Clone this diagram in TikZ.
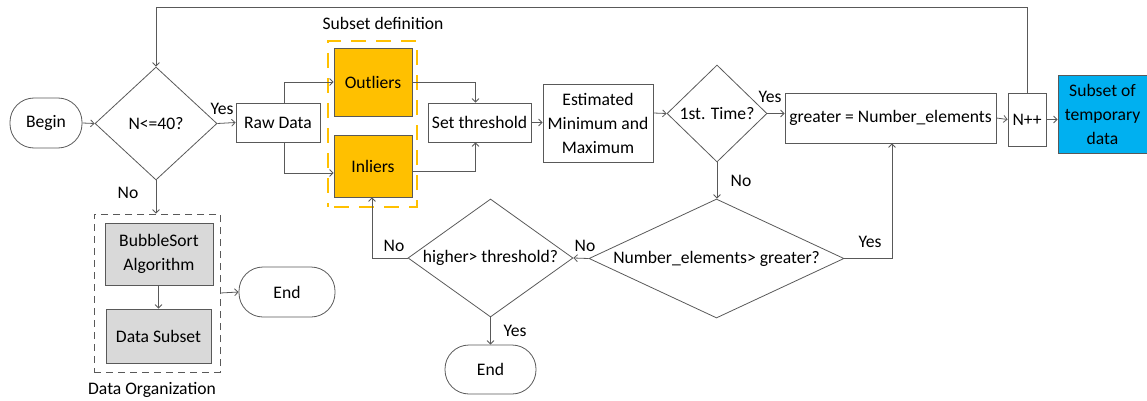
\documentclass[tikz,border=0pt]{standalone}
\usepackage{fontspec}
\setmainfont{Carlito}
\usetikzlibrary{shapes.geometric,arrows.meta}
\definecolor{lineg}{HTML}{595959}
\definecolor{amber}{HTML}{FFC000}
\definecolor{skyb}{HTML}{00B0F0}
\definecolor{lgray}{HTML}{D9D9D9}
\begin{document}
\begin{tikzpicture}[x=1pt,y=-1pt,
  every node/.style={font=\fontsize{17.6}{24}\selectfont, text=black},
  box/.style={draw=lineg, line width=0.8pt, inner sep=0pt, align=center},
  term/.style={box, rounded corners=24pt},
  decision/.style={box, diamond},
  arr/.style={draw=lineg, line width=0.8pt, -{Straight Barb[length=3.5pt,width=7pt]}},
  lbl/.style={inner sep=0pt}]
\useasboundingbox (0,0) rectangle (1147,401);

% upper row
\node[term, minimum width=72pt, minimum height=50pt] (begin) at (46,123) {Begin};
\node[decision, aspect=1.08, minimum width=122pt, minimum height=113pt] (d1) at (156,123.5) {N<=40?};
\node[box, minimum width=84pt, minimum height=39pt] (raw) at (278,122.5) {Raw Data};
\node[box, fill=amber, minimum width=78pt, minimum height=68pt] (out) at (373,82) {Outliers};
\node[box, fill=amber, minimum width=78pt, minimum height=62pt] (inl) at (373,166) {Inliers};
\node[draw=amber, line width=2.5pt, dash pattern=on 15pt off 10pt, dash phase=-6pt, minimum width=89pt, minimum height=166pt, inner sep=0pt] (subframe) at (372.5,124) {};
\node[lbl] (subtitle) at (383,23) {Subset definition};
\node[box, minimum width=103pt, minimum height=39pt] (thr) at (479.5,122.5) {Set threshold};
\node[box, minimum width=110pt, minimum height=78pt] (est) at (598,123) {Estimated\\Minimum and\\Maximum};
\node[decision, aspect=1.03, minimum width=100pt, minimum height=97pt] (d2) at (717,113.5) {1st. Time?};
\node[box, minimum width=211pt, minimum height=50pt] (grt) at (890.5,118) {greater = Number\_elements};
\node[box, minimum width=38pt, minimum height=53pt] (npp) at (1027,119.5) {N++};
\node[box, fill=skyb, minimum width=89pt, minimum height=78pt] (sub) at (1102.5,114) {Subset of\\temporary\\data};

% lower row
\node[decision, aspect=2.14, minimum width=255pt, minimum height=119pt] (d3) at (716.5,258.5) {Number\_elements> greater?};
\node[decision, aspect=1.4, minimum width=165pt, minimum height=118pt] (d4) at (490.5,258) {higher> threshold?};
\node[term, minimum width=91pt, minimum height=49pt] (end2) at (490.5,369.5) {End};

% data organization group
\node[draw=lineg, line width=0.8pt, dash pattern=on 7pt off 5pt, minimum width=126pt, minimum height=158pt, inner sep=0pt] (orgframe) at (157,293) {};
\node[box, fill=lgray, minimum width=108pt, minimum height=62pt] (bub) at (159,254) {BubbleSort\\Algorithm};
\node[box, fill=lgray, minimum width=105pt, minimum height=54pt] (dsub) at (158.5,336) {Data Subset};
\node[term, minimum width=96pt, minimum height=50pt] (end1) at (287,292) {End};
\node[lbl] (orgtitle) at (152,390) {Data Organization};

% connectors
\draw[arr] (begin.east) -- (d1.west);
\draw[arr] (d1.east) -- (raw.west);
\node[lbl] (yes1) at (222,109) {Yes};
\draw[arr] ([xshift=6pt]raw.north) |- (out.west);
\draw[arr] ([xshift=6pt]raw.south) |- ([yshift=-7pt]inl.west);
\draw[arr] (out.east) -| ([xshift=-4pt]thr.north);
\draw[arr] ([yshift=-5pt]inl.east) -| ([xshift=-4pt]thr.south);
\draw[arr] (thr.east) -- (thr.east -| est.west);
\draw[arr] ([yshift=10pt]est.east) -- (d2.west);
\draw[arr] (d2.east) -- (d2.east -| grt.west);
\node[lbl] (yes2) at (770,97) {Yes};
\draw[arr] (grt.east) -- (npp.west);
\draw[arr] (npp.east) -- (npp.east -| sub.west);
\coordinate (loopr) at (1027,7);
\coordinate (loopl) at (156,7);
\draw[arr] (npp.north) -- (loopr) -- (loopl) -- (d1.north);
\draw[arr] (d2.south) -- (d2.south |- d3.north);
\node[lbl] (no2) at (741,181) {No};
\draw[arr] (d3.east) -| ([xshift=1.5pt]grt.south);
\node[lbl] (yes3) at (870,242) {Yes};
\draw[arr] (d3.west) -- (d4.east);
\node[lbl] (no3) at (585,246) {No};
\draw[arr] (d4.west) -| ([xshift=-1pt]inl.south);
\node[lbl] (no4) at (394,246) {No};
\draw[arr] (d4.south) -- (end2.north);
\node[lbl] (yes4) at (515,331) {Yes};
\draw[arr] (d1.south) -- (d1.south |- orgframe.north);
\node[lbl] (no1) at (128,193) {No};
\draw[arr] (bub.south -| dsub.north) -- (dsub.north);
\draw[arr] (orgframe.east) -- (end1.west);
\end{tikzpicture}
\end{document}
